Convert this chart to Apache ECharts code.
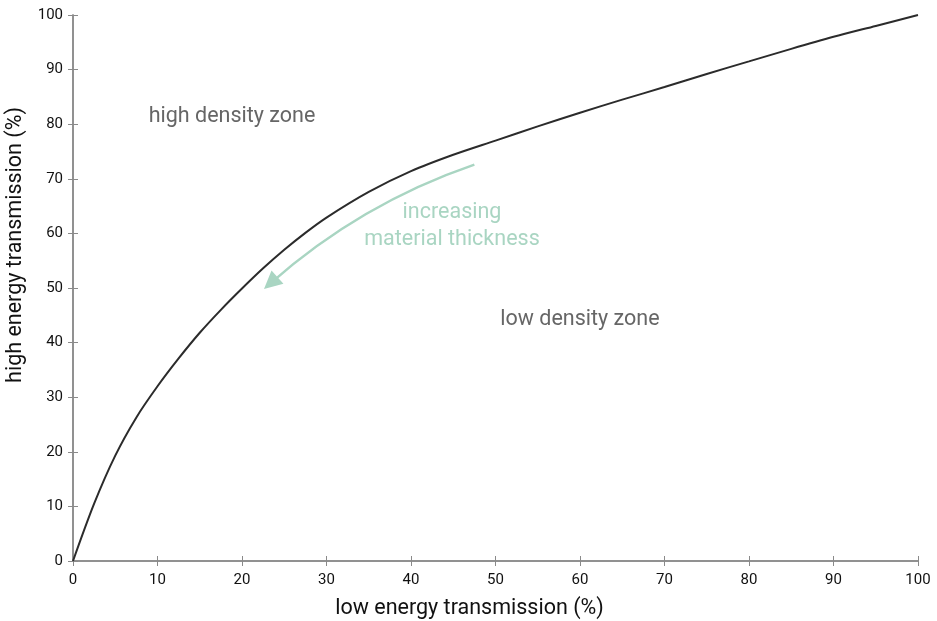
<!DOCTYPE html>
<html>
<head>
<meta charset="utf-8">
<script src="https://cdn.jsdelivr.net/npm/echarts@6/dist/echarts.min.js"></script>
<style>
  html, body { margin: 0; padding: 0; background: #fff; }
  #chart { width: 937px; height: 621px; }
</style>
</head>
<body>
<div id="chart"></div>
<script>
// Low-energy vs high-energy transmission curve (percent)
const lowEnergy  = [0, 2.5, 5, 7.5, 10, 12.5, 15, 17.5, 20, 22.5, 25, 27.5, 30, 35, 40, 45, 50, 55, 60, 65, 70, 75, 80, 85, 90, 95, 100];
const highEnergy = [0, 10.5, 19.3, 26.3, 32.0, 37.1, 41.8, 46.0, 49.9, 53.6, 57.0, 60.1, 62.9, 67.6, 71.4, 74.4, 77.0, 79.6, 82.1, 84.5, 86.8, 89.2, 91.5, 93.8, 96.0, 98.0, 100];

// Direction arrow for increasing material thickness: [start, end] in data units
const arrowStart = [47.5, 72.6];
const arrowEnd = [23.4, 50.9];

const xTicks = [0, 10, 20, 30, 40, 50, 60, 70, 80, 90, 100];
const yTicks = [0, 10, 20, 30, 40, 50, 60, 70, 80, 90, 100];

const curve = lowEnergy.map((x, i) => [x, highEnergy[i]]);

const axisGrey = '#8a8a8a';
const font = 'Roboto, "Noto Sans", sans-serif';

const chart = echarts.init(document.getElementById('chart'), null, { renderer: 'canvas' });

const baseAxis = {
  type: 'value',
  min: xTicks[0],
  max: xTicks[xTicks.length - 1],
  interval: 10,
  splitLine: { show: false },
  axisLine: { show: true, lineStyle: { color: axisGrey, width: 1.5 } },
  axisTick: { show: true, inside: true, length: 5, lineStyle: { color: axisGrey, width: 1 } }
};

chart.setOption({
  animation: false,
  backgroundColor: '#ffffff',
  grid: { left: 73, right: 19, top: 15, bottom: 60, containLabel: false, outerBoundsMode: 'none' },
  xAxis: [
    Object.assign({}, baseAxis, {
      position: 'bottom',
      name: 'low energy transmission (%)',
      nameLocation: 'middle',
      nameGap: 37,
      nameTextStyle: { fontFamily: font, fontSize: 21.5, color: '#111', padding: [0, 52, 0, 0] },
      axisLabel: { fontFamily: font, fontSize: 15, color: '#111', margin: 12 }
    }),
    Object.assign({}, baseAxis, {
      position: 'top',
      axisLabel: { show: false }
    })
  ],
  yAxis: [
    Object.assign({}, baseAxis, {
      min: yTicks[0],
      max: yTicks[yTicks.length - 1],
      position: 'left',
      name: 'high energy transmission (%)',
      nameLocation: 'middle',
      nameGap: 43,
      nameTextStyle: { fontFamily: font, fontSize: 21.5, color: '#111', padding: [0, 0, 0, 86] },
      axisLabel: { fontFamily: font, fontSize: 15, color: '#111', margin: 10 }
    }),
    Object.assign({}, baseAxis, {
      min: yTicks[0],
      max: yTicks[yTicks.length - 1],
      position: 'right',
      axisLabel: { show: false }
    })
  ],
  series: [
    {
      type: 'line',
      xAxisIndex: 0,
      yAxisIndex: 0,
      data: curve,
      smooth: 0.3,
      showSymbol: false,
      lineStyle: { color: '#2b2b2b', width: 2 },
      z: 3
    },
    {
      type: 'lines',
      coordinateSystem: 'cartesian2d',
      xAxisIndex: 0,
      yAxisIndex: 0,
      symbol: ['none', 'triangle'],
      symbolSize: [14, 18],
      lineStyle: { color: '#a9d5c2', width: 2.5, curveness: -0.1, opacity: 1 },
      data: [{ coords: [arrowStart, arrowEnd] }],
      z: 2
    }
  ],
  graphic: [
    {
      type: 'text', x: 232, y: 117,
      style: { text: 'high density zone', fontFamily: font, fontSize: 21.5, fill: '#666666', align: 'center', verticalAlign: 'middle' }
    },
    {
      type: 'text', x: 580, y: 320,
      style: { text: 'low density zone', fontFamily: font, fontSize: 21.5, fill: '#666666', align: 'center', verticalAlign: 'middle' }
    },
    {
      type: 'text', x: 452, y: 213,
      style: { text: 'increasing', fontFamily: font, fontSize: 21.5, fill: '#a9d5c2', align: 'center', verticalAlign: 'middle' }
    },
    {
      type: 'text', x: 452, y: 240,
      style: { text: 'material thickness', fontFamily: font, fontSize: 21.5, fill: '#a9d5c2', align: 'center', verticalAlign: 'middle' }
    }
  ]
});
</script>
</body>
</html>
